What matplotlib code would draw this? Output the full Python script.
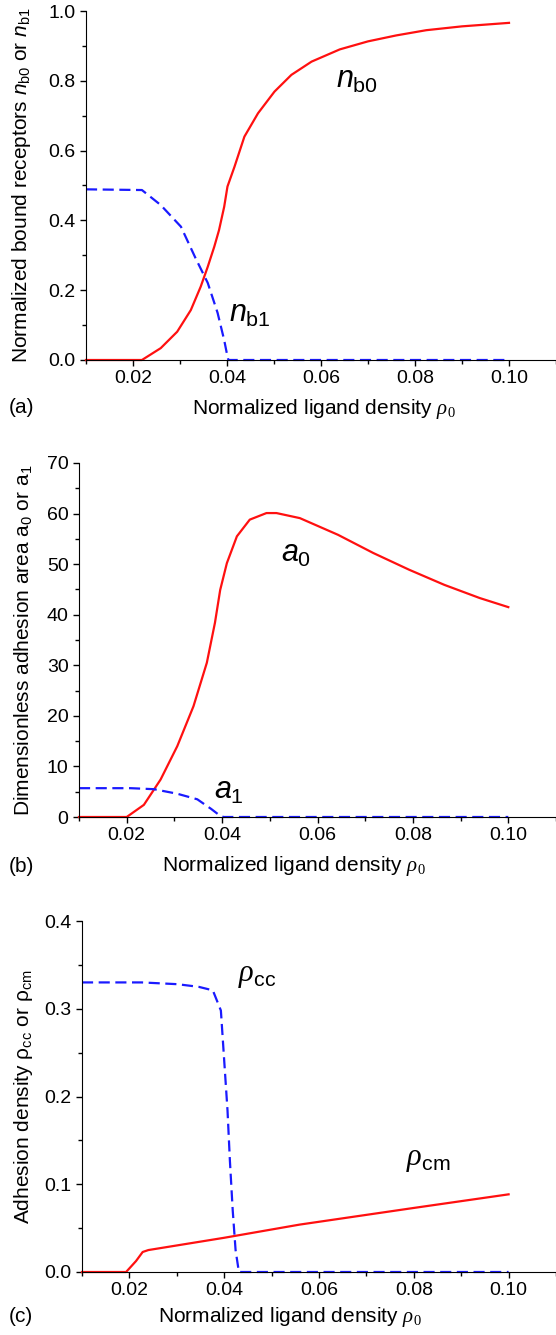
import matplotlib
matplotlib.use("Agg")
import matplotlib.pyplot as plt
from matplotlib.ticker import MultipleLocator, FormatStrFormatter

plt.rcParams['font.family'] = ['Liberation Sans', 'DejaVu Sans']
plt.rcParams['mathtext.fontset'] = 'custom'
plt.rcParams['mathtext.rm'] = 'Liberation Sans'
plt.rcParams['mathtext.it'] = 'Liberation Sans:italic'
plt.rcParams['mathtext.sf'] = 'Liberation Serif:italic'   # used for the serif rho
plt.rcParams['mathtext.cal'] = 'Liberation Serif'         # used for the serif subscript 0

# (a) normalized bound receptors
nb0_x = [0.010, 0.0219, 0.0259, 0.0294, 0.0323, 0.0344, 0.0359, 0.0373, 0.0383, 0.0394,
         0.0401, 0.0416, 0.0437, 0.0466, 0.0501, 0.0537, 0.0580, 0.0640, 0.0700,
         0.0760, 0.0824, 0.0900, 0.1000]
nb0_y = [0.0, 0.0, 0.034, 0.081, 0.143, 0.210, 0.267, 0.325, 0.372, 0.439,
         0.497, 0.554, 0.640, 0.707, 0.769, 0.817, 0.855, 0.890, 0.913,
         0.930, 0.945, 0.956, 0.966]
nb1_x = [0.010, 0.0219, 0.0259, 0.0302, 0.0333, 0.0359, 0.0380, 0.0394, 0.0401, 0.0403, 0.1000]
nb1_y = [0.489, 0.487, 0.444, 0.382, 0.292, 0.221, 0.135, 0.057, 0.010, 0.0, 0.0]

# (b) dimensionless adhesion area
a0_x = [0.010, 0.0200, 0.0236, 0.0271, 0.0306, 0.0340, 0.0368, 0.0385, 0.0396, 0.0410,
        0.0431, 0.0458, 0.0493, 0.0514, 0.0563, 0.0643, 0.0717, 0.0792, 0.0866, 0.0940, 0.1000]
a0_y = [0.0, 0.0, 2.4, 7.4, 14.0, 21.9, 30.5, 38.4, 44.9, 50.2,
        55.5, 58.8, 60.1, 60.1, 59.1, 55.8, 52.2, 48.9, 45.9, 43.3, 41.5]
a1_x = [0.010, 0.0208, 0.0257, 0.0306, 0.0348, 0.0377, 0.0395, 0.0403, 0.1000]
a1_y = [5.7, 5.7, 5.5, 4.6, 3.5, 1.6, 0.3, 0.0, 0.0]

# (c) adhesion density
rcc_x = [0.010, 0.0226, 0.0301, 0.0346, 0.0376, 0.0393, 0.0400, 0.0407, 0.0412, 0.0418,
         0.0424, 0.0431, 0.1000]
rcc_y = [0.330, 0.330, 0.328, 0.325, 0.321, 0.298, 0.241, 0.184, 0.127, 0.070,
         0.025, 0.0, 0.0]
rcm_x = [0.010, 0.0193, 0.0214, 0.0228, 0.0240, 0.0400, 0.0559, 0.0800, 0.1000]
rcm_y = [0.0, 0.0, 0.0125, 0.0228, 0.025, 0.039, 0.054, 0.073, 0.0885]

red = '#ff1010'
blue = '#1a1aff'
W, H = 556, 1335
xlab = r'Normalized ligand density $\mathsf{\rho}_{\mathcal{0}}$'

fig = plt.figure(figsize=(W / 100, H / 100), dpi=100)


def style(ax, ymax, ymajor, yminor, yfmt):
    ax.set_xlim(0.01, 0.11)
    ax.set_ylim(0, ymax)
    ax.spines['top'].set_visible(False)
    ax.spines['right'].set_visible(False)
    ax.xaxis.set_major_locator(MultipleLocator(0.02))
    ax.xaxis.set_minor_locator(MultipleLocator(0.01))
    ax.xaxis.set_major_formatter(FormatStrFormatter('%.2f'))
    ax.yaxis.set_major_locator(MultipleLocator(ymajor))
    ax.yaxis.set_minor_locator(MultipleLocator(yminor))
    ax.yaxis.set_major_formatter(FormatStrFormatter(yfmt))
    ax.tick_params(which='major', direction='out', length=4, width=1, labelsize=14)
    ax.tick_params(which='minor', direction='out', length=3, width=1)
    ax.set_xlabel(xlab, fontsize=15)


def add_axes(left, top, bottom):
    return fig.add_axes([left / W, 1 - bottom / H, 1 - left / W, (bottom - top) / H])


# panel (a)
ax1 = add_axes(86, 11, 360)
ax1.plot(nb0_x, nb0_y, color=red, lw=1.6, clip_on=False)
ax1.plot(nb1_x, nb1_y, color=blue, lw=1.6, dashes=(5, 2.5), clip_on=False)
style(ax1, 1.0, 0.2, 0.1, '%.1f')
ax1.set_ylabel(r'Normalized bound receptors $n_{\mathrm{b0}}$ or $n_{\mathrm{b1}}$', fontsize=15)
ax1.yaxis.set_label_coords(-0.113, 0.5)
ax1.xaxis.set_label_coords(0.506, -0.105)
ax1.text(0.0632, 0.78, r'$n_{\mathrm{b0}}$', fontsize=22)
ax1.text(0.0405, 0.11, r'$n_{\mathrm{b1}}$', fontsize=22)
fig.text(9 / W, 1 - 408 / H, '(a)', fontsize=15, va='center')

# panel (b)
ax2 = add_axes(79, 463, 817)
ax2.plot(a0_x, a0_y, color=red, lw=1.6, clip_on=False)
ax2.plot(a1_x, a1_y, color=blue, lw=1.6, dashes=(5, 2.5), clip_on=False)
style(ax2, 70, 10, 5, '%d')
ax2.set_ylabel(r'Dimensionless adhesion area a$_0$ or a$_1$', fontsize=15)
ax2.yaxis.set_label_coords(-0.092, 0.5)
ax2.xaxis.set_label_coords(0.45, -0.105)
ax2.text(0.0523, 50.5, r'$a_0$', fontsize=22)
ax2.text(0.0383, 3.6, r'$a_1$', fontsize=22)
fig.text(9 / W, 1 - 866 / H, '(b)', fontsize=15, va='center')

# panel (c)
ax3 = add_axes(82, 921, 1272)
ax3.plot(rcm_x, rcm_y, color=red, lw=1.6, clip_on=False)
ax3.plot(rcc_x, rcc_y, color=blue, lw=1.6, dashes=(5, 2.5), clip_on=False)
style(ax3, 0.4, 0.1, 0.05, '%.1f')
ax3.set_ylabel('Adhesion density ρ$_{\\mathrm{cc}}$ or ρ$_{\\mathrm{cm}}$', fontsize=15)
ax3.yaxis.set_label_coords(-0.1, 0.5)
ax3.xaxis.set_label_coords(0.439, -0.094)
ax3.text(0.0429, 0.332, r'$\mathsf{\rho}_{\mathrm{cc}}$', fontsize=22)
ax3.text(0.0783, 0.122, r'$\mathsf{\rho}_{\mathrm{cm}}$', fontsize=22)
fig.text(9 / W, 1 - 1316 / H, '(c)', fontsize=15, va='center')

fig.savefig('out.png', dpi=100)
